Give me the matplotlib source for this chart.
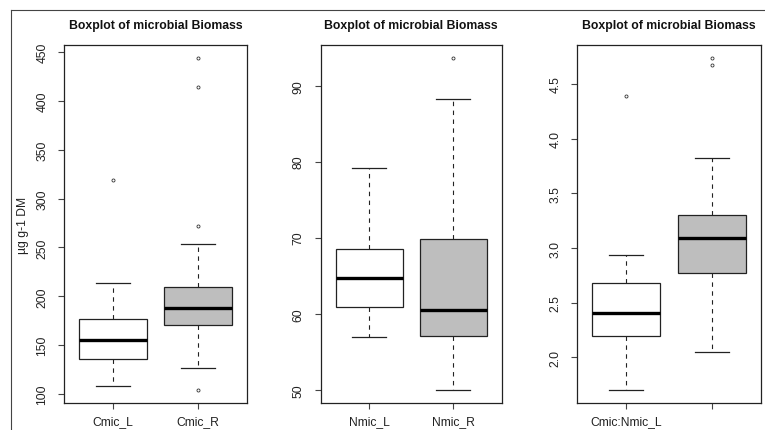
import matplotlib
matplotlib.use("Agg")
import matplotlib.pyplot as plt
from matplotlib.lines import Line2D

plt.rcParams['font.family'] = ['Liberation Sans', 'DejaVu Sans']

title = "Boxplot of microbial Biomass"
ylabel1 = "µg g-1 DM"

# Panel 1: Cmic
cmic_labels = ["Cmic_L", "Cmic_R"]
cmic_whislo = [108.2, 126.7]
cmic_q1 = [136.2, 170.4]
cmic_med = [155.0, 188.3]
cmic_q3 = [177.0, 210.0]
cmic_whishi = [214.0, 254.0]
cmic_fliers = [[319.0], [272.0, 414.5, 443.5, 104.4]]
cmic_ticks = [100, 150, 200, 250, 300, 350, 400, 450]

# Panel 2: Nmic
nmic_labels = ["Nmic_L", "Nmic_R"]
nmic_whislo = [57.0, 50.0]
nmic_q1 = [60.9, 57.1]
nmic_med = [64.75, 60.45]
nmic_q3 = [68.5, 69.86]
nmic_whishi = [79.2, 88.3]
nmic_fliers = [[], [93.6]]
nmic_ticks = [50, 60, 70, 80, 90]

# Panel 3: Cmic:Nmic
cn_labels = ["Cmic:Nmic_L", ""]
cn_whislo = [1.704, 2.049]
cn_q1 = [2.199, 2.77]
cn_med = [2.407, 3.095]
cn_q3 = [2.676, 3.306]
cn_whishi = [2.932, 3.826]
cn_fliers = [[4.393], [4.674, 4.735]]
cn_ticks = [2.0, 2.5, 3.0, 3.5, 4.0, 4.5]
cn_ticklabels = ["2.0", "2.5", "3.0", "3.5", "4.0", "4.5"]

box_colors = ["white", "#bebebe"]

W, H = 765, 431
fig = plt.figure(figsize=(W / 100, H / 100), dpi=100)

panels = [
    (64, 247, cmic_labels, cmic_whislo, cmic_q1, cmic_med, cmic_q3, cmic_whishi, cmic_fliers, cmic_ticks, None, ylabel1),
    (320.5, 502, nmic_labels, nmic_whislo, nmic_q1, nmic_med, nmic_q3, nmic_whishi, nmic_fliers, nmic_ticks, None, None),
    (577, 761, cn_labels, cn_whislo, cn_q1, cn_med, cn_q3, cn_whishi, cn_fliers, cn_ticks, cn_ticklabels, None),
]
top_px, bot_px = 46, 404

for (l, r, labels, wl, q1, med, q3, wh, fl, ticks, ticklabels, ylab) in panels:
    ax = fig.add_axes([l / W, (H - bot_px) / H, (r - l) / W, (bot_px - top_px) / H])
    stats = []
    for i in range(2):
        stats.append(dict(med=med[i], q1=q1[i], q3=q3[i], whislo=wl[i], whishi=wh[i],
                          fliers=fl[i], label=labels[i]))
    bp = ax.bxp(stats, positions=[1, 2], widths=0.8, patch_artist=True, showfliers=True,
                boxprops=dict(edgecolor="#222222", linewidth=0.9),
                medianprops=dict(color="black", linewidth=2.4, solid_capstyle="butt"),
                whiskerprops=dict(color="#222222", linewidth=0.8, linestyle=(0, (4, 4))),
                capprops=dict(color="#222222", linewidth=0.9),
                capwidths=0.4,
                flierprops=dict(marker="o", markersize=2.2, markerfacecolor="none",
                                markeredgecolor="#333333", markeredgewidth=0.6))
    for patch, c in zip(bp["boxes"], box_colors):
        patch.set_facecolor(c)
    allv = wl + wh + [v for f in fl for v in f]
    lo, hi = min(allv), max(allv)
    rng = hi - lo
    ax.set_ylim(lo - 0.04 * rng, hi + 0.04 * rng)
    ax.set_xlim(0.42, 2.58)
    ax.set_xticks([1, 2])
    ax.set_xticklabels(labels)
    ax.set_yticks(ticks)
    if ticklabels is not None:
        ax.set_yticklabels(ticklabels)
    for lab in ax.get_yticklabels():
        lab.set_rotation(90)
        lab.set_va("center")
    ax.tick_params(axis="y", length=4.3, width=0.8, color="#444444", pad=7, labelsize=8.7, labelcolor="#222222")
    ax.tick_params(axis="x", length=4.3, width=0.8, color="#444444", pad=4.5, labelsize=8.7, labelcolor="#222222")
    for s in ax.spines.values():
        s.set_color("#222222")
        s.set_linewidth(0.9)
    ax.set_title(title, fontsize=8.8, fontweight="bold", pad=12.5, color="#111111")
    if ylab:
        ax.set_ylabel(ylab, fontsize=8.7, labelpad=5, color="#222222")

# outer frame lines
fig.add_artist(Line2D([11 / W, 11 / W], [0, 1 - 11 / H], transform=fig.transFigure, color="#444444", linewidth=0.8))
fig.add_artist(Line2D([11 / W, 1], [1 - 11 / H, 1 - 11 / H], transform=fig.transFigure, color="#444444", linewidth=0.8))

fig.savefig("out.png", dpi=100)
